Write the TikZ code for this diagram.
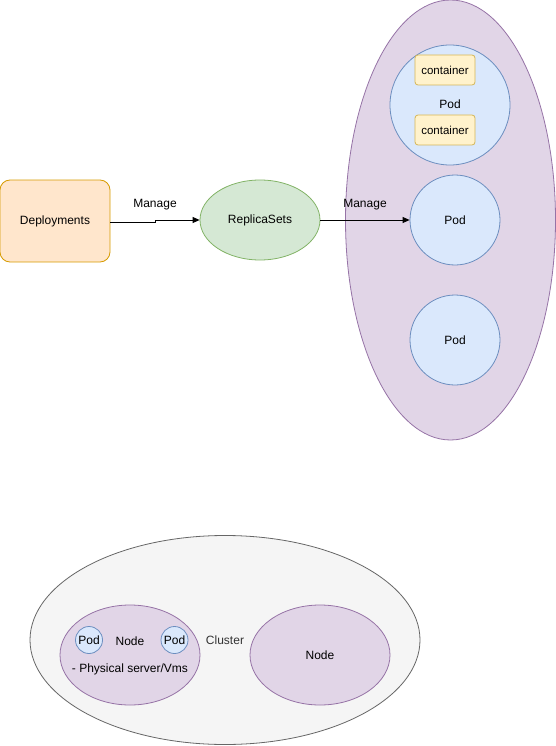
\documentclass[tikz,border=0pt]{standalone}
\usepackage{fontspec}
\setmainfont{Liberation Sans}
\usetikzlibrary{arrows.meta,shapes.geometric}
\definecolor{orfill}{HTML}{FFE6CC}\definecolor{ordraw}{HTML}{D79B00}
\definecolor{grfill}{HTML}{D5E8D4}\definecolor{grdraw}{HTML}{82B366}
\definecolor{pufill}{HTML}{E1D5E7}\definecolor{pudraw}{HTML}{9673A6}
\definecolor{blfill}{HTML}{DAE8FC}\definecolor{bldraw}{HTML}{6C8EBF}
\definecolor{yefill}{HTML}{FFF2CC}\definecolor{yedraw}{HTML}{D6B656}
\definecolor{gyfill}{HTML}{F5F5F5}\definecolor{gydraw}{HTML}{666666}
\definecolor{gytext}{HTML}{333333}
\tikzset{
  txt/.style={font=\fontsize{12}{14}\selectfont, inner sep=0pt},
  smalltxt/.style={font=\fontsize{11.5}{13}\selectfont, inner sep=0pt},
  ell/.style={ellipse, draw, inner sep=0pt, line width=0.8pt},
  circ/.style={circle, draw=bldraw, fill=blfill, inner sep=0pt, line width=0.8pt},
  cont/.style={rectangle, rounded corners=3pt, draw=yedraw, fill=yefill, minimum width=60pt, minimum height=30pt, inner sep=0pt, line width=0.8pt},
  arr/.style={-{Triangle[length=7pt,width=6pt]}, line width=0.8pt},
  lbl/.style={font=\fontsize{12}{14}\selectfont, fill=white, inner sep=1pt}
}
\begin{document}
\begin{tikzpicture}[x=1pt,y=-1pt]
\useasboundingbox (0,0) rectangle (556,746);
% big purple ellipse
\node[ell, draw=pudraw, fill=pufill, minimum width=210pt, minimum height=440pt] (group) at (450.5,220) {};
% cluster
\node[ell, draw=gydraw, fill=gyfill, minimum width=390pt, minimum height=209pt] (cluster) at (225,640) {};
\node[txt, text=gytext] (clustert) at (225,640) {Cluster};
% deployments
\node[rectangle, rounded corners=10pt, draw=ordraw, fill=orfill, minimum width=110pt, minimum height=82pt, line width=0.8pt, txt] (dep) at (55,221) {Deployments};
% replicasets
\node[ell, draw=grdraw, fill=grfill, minimum width=120pt, minimum height=80pt, txt] (rs) at (260,220) {ReplicaSets};
% top pod
\node[circ, minimum size=120pt] (podtop) at (450,105) {};
\node[txt] (podtopt) at (450,104) {Pod};
\node[cont, smalltxt] (c1) at (445,70) {container};
\node[cont, smalltxt] (c2) at (445,130) {container};
% pods
\node[circ, minimum size=90pt, txt] (pod2) at (455,220) {Pod};
\node[circ, minimum size=90pt, txt] (pod3) at (455,340) {Pod};
% edges
\coordinate (j1) at (155,222);
\coordinate (j2) at (155,220);
\draw[arr] (dep.east |- j1) -- (j1) -- (j2) -- (rs.west);
\node[txt] (m1) at (155,205) {Manage};
\draw[arr] (rs.east) -- (pod2.west);
\node[txt] (m2) at (365,205) {Manage};
% nodes
\node[ell, draw=pudraw, fill=pufill, minimum width=140pt, minimum height=100pt] (nodeL) at (130,655) {};
\node[txt] (nodeLt) at (130,641) {Node};
\node[txt] (phys) at (130,669) {- Physical server/Vms};
\node[circ, minimum size=27pt, txt] (sp1) at (89,640) {Pod};
\node[circ, minimum size=27pt, txt] (sp2) at (174.5,640) {Pod};
\node[ell, draw=pudraw, fill=pufill, minimum width=140pt, minimum height=100pt, txt] (nodeR) at (320,655) {Node};
\end{tikzpicture}
\end{document}
